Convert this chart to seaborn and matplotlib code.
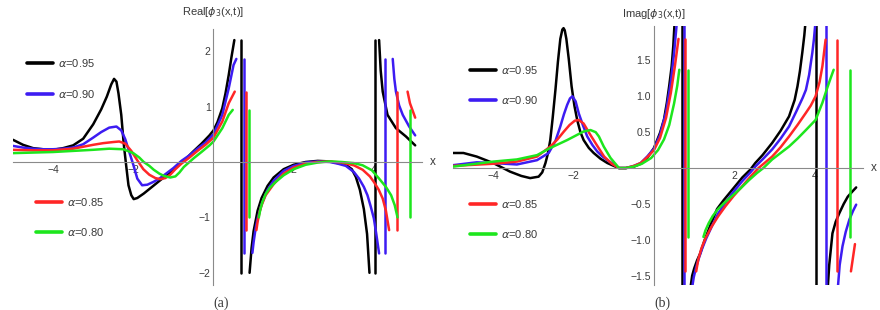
import numpy as np
import pandas as pd
import seaborn as sns
import matplotlib.pyplot as plt
from matplotlib.ticker import MultipleLocator, FixedLocator, FuncFormatter
from matplotlib.lines import Line2D

# values; NaN separates the branches of one curve
N = np.nan
alphas = ["0.95", "0.90", "0.85", "0.80"]
colors = ["#000000", "#3d1cf2", "#ff2626", "#1de61d"]

# ---- panel (a): Real part ----
re_x_95 = [-5.0, -4.75, -4.5, -4.25, -4.0, -3.75, -3.5, -3.25, -3.0, -2.8, -2.66, -2.55, -2.48, -2.42, -2.37,
           -2.3, -2.24, -2.18, -2.12, -2.05, -1.99, -1.9, -1.74, -1.5, -1.33, -1.1, -0.91, -0.7, -0.49, -0.3,
           -0.1, 0.0, 0.1, 0.22, 0.3, 0.38, 0.45, 0.52, N,
           0.69, 0.69, N,
           0.90, 0.95, 1.0, 1.1, 1.2, 1.35, 1.5, 1.75, 2.0, 2.3, 2.6, 2.9, 3.1, 3.3, 3.45, 3.55, 3.65, 3.75,
           3.83, 3.89, N,
           4.02, 4.02, N,
           4.13, 4.17, 4.22, 4.34, 4.55, 4.8, 5.03]
re_y_95 = [0.40, 0.31, 0.25, 0.23, 0.22, 0.25, 0.30, 0.42, 0.68, 0.95, 1.18, 1.40, 1.50, 1.45, 1.24,
           0.85, 0.34, -0.05, -0.42, -0.60, -0.67, -0.65, -0.57, -0.43, -0.33, -0.20, -0.08, 0.05, 0.20, 0.33,
           0.48, 0.57, 0.72, 0.97, 1.24, 1.57, 1.90, 2.2, N,
           2.2, -2.0, N,
           -2.0, -1.55, -1.25, -0.88, -0.65, -0.43, -0.28, -0.13, -0.05, 0.0, 0.02, 0.01, -0.02, -0.05, -0.13,
           -0.27, -0.50, -0.85, -1.3, -2.0, N,
           2.2, -2.0, N,
           2.2, 1.65, 1.27, 0.85, 0.61, 0.46, 0.30]

re_x_90 = [-5.0, -4.75, -4.5, -4.25, -4.0, -3.75, -3.5, -3.25, -3.0, -2.8, -2.6, -2.42, -2.3, -2.2, -2.1,
           -2.0, -1.9, -1.78, -1.65, -1.5, -1.35, -1.2, -1.0, -0.8, -0.6, -0.4, -0.2, 0.0, 0.22, 0.38, 0.5,
           0.57, N,
           0.77, 0.77, N,
           0.97, 1.0, 1.05, 1.1, 1.2, 1.35, 1.5, 1.75, 2.0, 2.3, 2.6, 2.9, 3.1, 3.3, 3.5, 3.63, 3.75, 3.84,
           3.92, 4.0, 4.06, 4.13, N,
           4.28, 4.28, N,
           4.47, 4.51, 4.55, 4.63, 4.72, 4.88, 5.03]
re_y_90 = [0.29, 0.26, 0.24, 0.23, 0.23, 0.24, 0.26, 0.32, 0.44, 0.54, 0.62, 0.64, 0.57, 0.41, 0.18,
           -0.05, -0.30, -0.42, -0.41, -0.36, -0.30, -0.22, -0.11, 0.02, 0.12, 0.24, 0.35, 0.50, 0.85, 1.33, 1.75,
           1.86, N,
           1.86, -1.64, N,
           -1.64, -1.45, -1.20, -1.02, -0.76, -0.50, -0.34, -0.16, -0.07, -0.01, 0.01, 0.0, -0.03, -0.07, -0.18,
           -0.30, -0.45, -0.60, -0.80, -1.02, -1.30, -1.65, N,
           1.86, -1.65, N,
           1.86, 1.5, 1.27, 1.02, 0.85, 0.64, 0.48]

re_x_85 = [-5.0, -4.5, -4.0, -3.5, -3.0, -2.75, -2.5, -2.35, -2.2, -2.05, -1.9, -1.75, -1.6, -1.45, -1.33,
           -1.2, -1.08, -0.95, -0.8, -0.6, -0.4, -0.2, 0.0, 0.22, 0.38, 0.53, N,
           0.82, 0.82, N,
           1.07, 1.1, 1.15, 1.2, 1.3, 1.5, 1.75, 2.0, 2.3, 2.6, 2.9, 3.2, 3.5, 3.72, 3.9, 4.0, 4.12, 4.22,
           4.3, 4.38, N,
           4.58, 4.58, N,
           4.84, 4.9, 4.97, 5.03]
re_y_85 = [0.22, 0.21, 0.21, 0.24, 0.31, 0.34, 0.36, 0.37, 0.33, 0.20, 0.03, -0.13, -0.23, -0.29, -0.31,
           -0.29, -0.23, -0.13, -0.03, 0.08, 0.20, 0.31, 0.44, 0.73, 1.06, 1.27, N,
           1.27, -1.23, N,
           -1.23, -1.08, -0.90, -0.78, -0.60, -0.40, -0.21, -0.10, -0.03, 0.0, 0.01, -0.01, -0.06, -0.14, -0.26,
           -0.36, -0.50, -0.66, -0.88, -1.23, N,
           1.27, -1.23, N,
           1.27, 1.06, 0.92, 0.80]

re_x_80 = [-5.0, -4.5, -4.0, -3.5, -3.0, -2.6, -2.25, -2.0, -1.85, -1.74, -1.6, -1.49, -1.35, -1.24, -1.08,
           -0.95, -0.85, -0.74, -0.6, -0.49, -0.3, -0.1, 0.0, 0.22, 0.38, 0.48, N,
           0.88, 0.88, N,
           1.13, 1.17, 1.22, 1.3, 1.4, 1.55, 1.75, 2.0, 2.3, 2.6, 2.9, 3.2, 3.5, 3.72, 3.95, 4.13, 4.3, 4.43,
           4.52, 4.59, N,
           4.9, 4.9]
re_y_80 = [0.16, 0.17, 0.18, 0.20, 0.22, 0.24, 0.23, 0.16, 0.08, 0.0, -0.07, -0.14, -0.21, -0.25, -0.28,
           -0.26, -0.19, -0.09, 0.0, 0.07, 0.18, 0.30, 0.37, 0.61, 0.85, 0.94, N,
           0.94, -1.0, N,
           -1.0, -0.85, -0.72, -0.58, -0.47, -0.36, -0.24, -0.13, -0.05, -0.01, 0.01, 0.0, -0.02, -0.06, -0.15,
           -0.30, -0.45, -0.60, -0.78, -1.0, N,
           0.94, -1.0]

# ---- panel (b): Imag part ----
im_x_95 = [-5.0, -4.74, -4.41, -4.0, -3.58, -3.3, -3.08, -2.87, -2.78, -2.70, -2.64, -2.58, -2.52, -2.45,
           -2.39, -2.33, -2.28, -2.25, -2.22, -2.18, -2.12, -2.05, -1.98, -1.91, -1.83, -1.75, -1.62, -1.5,
           -1.33, -1.16, -1.0, -0.87, -0.7, -0.5, -0.33, -0.17, 0.0, 0.15, 0.25, 0.32, 0.38, 0.44, 0.48, 0.52, N,
           0.69, 0.69, N,
           0.90, 0.95, 1.0, 1.07, 1.15, 1.25, 1.4, 1.57, 1.73, 1.98, 2.2, 2.4, 2.52, 2.7, 2.94, 3.15, 3.36,
           3.5, 3.57, 3.63, 3.69, 3.74, 3.78, N,
           4.02, 4.02, N,
           4.32, 4.36, 4.44, 4.52, 4.61, 4.72, 4.82, 4.93, 5.03]
im_y_95 = [0.21, 0.21, 0.16, 0.07, -0.05, -0.11, -0.14, -0.12, -0.06, 0.07, 0.2, 0.39, 0.7, 1.10,
           1.48, 1.80, 1.93, 1.95, 1.92, 1.80, 1.52, 1.14, 0.87, 0.67, 0.50, 0.39, 0.28, 0.21,
           0.13, 0.07, 0.03, 0.0, 0.0, 0.02, 0.06, 0.14, 0.28, 0.49, 0.68, 0.91, 1.15, 1.42, 1.7, 2.1, N,
           2.1, -1.7, N,
           -1.7, -1.5, -1.4, -1.29, -1.19, -1.02, -0.80, -0.57, -0.45, -0.28, -0.13, -0.02, 0.07, 0.18, 0.35,
           0.52, 0.72, 0.95, 1.14, 1.35, 1.61, 1.85, 2.1, N,
           2.1, -1.7, N,
           -1.7, -1.35, -0.91, -0.75, -0.63, -0.50, -0.40, -0.33, -0.27]

im_x_90 = [-5.0, -4.41, -4.0, -3.41, -2.91, -2.62, -2.45, -2.33, -2.24, -2.16, -2.09, -2.03, -1.95, -1.87,
           -1.77, -1.66, -1.53, -1.41, -1.28, -1.16, -1.0, -0.87, -0.7, -0.5, -0.33, -0.17, 0.0, 0.15, 0.3,
           0.42, 0.5, 0.58, N,
           0.74, 0.74, N,
           0.94, 0.99, 1.05, 1.12, 1.2, 1.3, 1.45, 1.6, 1.78, 1.98, 2.2, 2.4, 2.52, 2.7, 2.94, 3.15, 3.36,
           3.55, 3.7, 3.78, 3.86, 3.94, 3.98, 4.02, N,
           4.28, 4.28, N,
           4.57, 4.62, 4.69, 4.77, 4.86, 4.95, 5.03]
im_y_90 = [0.04, 0.08, 0.07, 0.05, 0.11, 0.21, 0.38, 0.58, 0.75, 0.88, 0.97, 1.0, 0.93, 0.76,
           0.60, 0.44, 0.32, 0.23, 0.16, 0.11, 0.05, 0.0, 0.0, 0.03, 0.07, 0.16, 0.27, 0.46, 0.78,
           1.2, 1.6, 2.1, N,
           2.1, -1.7, N,
           -1.7, -1.52, -1.38, -1.25, -1.12, -0.98, -0.80, -0.63, -0.48, -0.33, -0.18, -0.06, 0.02, 0.12, 0.26,
           0.41, 0.58, 0.80, 0.98, 1.09, 1.3, 1.61, 1.8, 2.05, N,
           2.1, -1.7, N,
           -1.7, -1.35, -1.09, -0.89, -0.72, -0.60, -0.51]

im_x_85 = [-5.0, -4.0, -3.41, -2.91, -2.58, -2.4, -2.24, -2.1, -1.97, -1.87, -1.75, -1.58, -1.4, -1.24,
           -1.05, -0.87, -0.7, -0.5, -0.33, -0.17, 0.0, 0.15, 0.3, 0.42, 0.52, 0.61, N,
           0.78, 0.78, N,
           1.05, 1.1, 1.18, 1.28, 1.43, 1.6, 1.78, 1.98, 2.2, 2.4, 2.6, 2.94, 3.15, 3.36, 3.57, 3.78, 3.9,
           4.02, 4.12, 4.19, 4.27, N,
           4.55, 4.55, N,
           4.9, 4.95, 5.0]
im_y_85 = [0.03, 0.06, 0.09, 0.16, 0.30, 0.40, 0.51, 0.60, 0.66, 0.67, 0.62, 0.46, 0.30, 0.16,
           0.06, 0.0, 0.0, 0.03, 0.07, 0.15, 0.25, 0.42, 0.70, 1.05, 1.42, 1.80, N,
           1.80, -1.44, N,
           -1.44, -1.28, -1.12, -0.98, -0.82, -0.67, -0.53, -0.39, -0.25, -0.12, 0.0, 0.16, 0.29, 0.44, 0.60,
           0.77, 0.87, 1.0, 1.2, 1.42, 1.79, N,
           1.79, -1.44, N,
           -1.44, -1.25, -1.06]

im_x_80 = [-5.0, -4.0, -3.41, -2.91, -2.58, -2.16, -1.75, -1.58, -1.45, -1.37, -1.25, -1.08, -0.87, -0.7,
           -0.5, -0.3, -0.07, 0.1, 0.25, 0.38, 0.5, 0.58, 0.63, N,
           0.84, 0.84, N,
           1.23, 1.28, 1.36, 1.46, 1.58, 1.74, 1.94, 2.16, 2.36, 2.56, 2.72, 2.94, 3.15, 3.36, 3.57, 3.78,
           4.02, 4.19, 4.3, 4.38, 4.47, N,
           4.88, 4.88]
im_y_80 = [0.02, 0.09, 0.12, 0.18, 0.28, 0.39, 0.51, 0.53, 0.50, 0.44, 0.30, 0.14, 0.0, 0.0,
           0.02, 0.06, 0.14, 0.25, 0.40, 0.60, 0.90, 1.15, 1.37, N,
           1.37, -0.96, N,
           -0.96, -0.87, -0.77, -0.67, -0.58, -0.49, -0.39, -0.28, -0.17, -0.07, 0.0, 0.12, 0.21, 0.30, 0.41,
           0.53, 0.67, 0.91, 1.1, 1.23, 1.37, N,
           1.37, -0.96]

real_curves = [(re_x_95, re_y_95), (re_x_90, re_y_90), (re_x_85, re_y_85), (re_x_80, re_y_80)]
imag_curves = [(im_x_95, im_y_95), (im_x_90, im_y_90), (im_x_85, im_y_85), (im_x_80, im_y_80)]


def build_frame(curves):
    rows = []
    seg = 0
    for a, (xs, ys) in zip(alphas, curves):
        for x, y in zip(xs, ys):
            if np.isnan(x):
                seg += 1
                continue
            rows.append({"x": x, "y": y, "alpha": a, "seg": seg})
        seg += 1
    return pd.DataFrame(rows)


sns.set_style("white")
plt.rcParams["font.family"] = ["Liberation Sans", "DejaVu Sans"]
palette = dict(zip(alphas, colors))
axis_col = "#8a8a8a"
text_col = "#3a3a3a"

fig = plt.figure(figsize=(8.8, 3.1), dpi=100)
ax_a = fig.add_axes([13 / 880, 25 / 310, 409 / 880, 256 / 310])
ax_b = fig.add_axes([453 / 880, 25 / 310, 410 / 880, 259 / 310])

panels = [
    (ax_a, real_curves, (-5.0, 5.2), (-2.22, 2.40), [-2, -1, 1, 2], 0.2, "{:.0f}",
     r"Real[$\phi_3$(x,t)]", "(a)", 1.066),
    (ax_b, imag_curves, (-5.0, 5.2), (-1.63, 1.98), [-1.5, -1.0, -0.5, 0.5, 1.0, 1.5], 0.1, "{:.1f}",
     r"Imag[$\phi_3$(x,t)]", "(b)", 1.048),
]

for ax, curves, xlim, ylim, yticks, yminor, yfmt, title, tag, title_y in panels:
    df = build_frame(curves)
    sns.lineplot(data=df, x="x", y="y", hue="alpha", units="seg", estimator=None, sort=False,
                 hue_order=alphas, palette=palette, linewidth=1.8, legend=False, ax=ax)
    ax.set_xlim(*xlim)
    ax.set_ylim(*ylim)
    ax.set_xlabel("")
    ax.set_ylabel("")
    for side in ["top", "right"]:
        ax.spines[side].set_visible(False)
    for side in ["left", "bottom"]:
        ax.spines[side].set_position(("data", 0))
        ax.spines[side].set_color(axis_col)
        ax.spines[side].set_linewidth(0.8)
    ax.xaxis.set_major_locator(FixedLocator([-4, -2, 2, 4]))
    ax.xaxis.set_minor_locator(MultipleLocator(0.5))
    ax.yaxis.set_major_locator(FixedLocator(yticks))
    ax.yaxis.set_minor_locator(MultipleLocator(yminor))
    ax.xaxis.set_major_formatter(FuncFormatter(lambda v, p: "{:.0f}".format(v).replace("-", "\u2212")))
    ax.yaxis.set_major_formatter(FuncFormatter(lambda v, p, f=yfmt: f.format(v).replace("-", "\u2212")))
    ax.tick_params(which="major", direction="in", length=4, width=0.7, color=axis_col,
                   labelsize=7.5, labelcolor=text_col, pad=2)
    ax.tick_params(which="minor", direction="in", length=2.2, width=0.6, color=axis_col)
    ax.set_facecolor("none")

    ax.text(0, title_y, title, transform=ax.get_xaxis_transform(), ha="center", va="center",
            fontsize=8, color=text_col)
    ax.text(5.48, 0, "x", ha="center", va="center", fontsize=8.5, color=text_col, clip_on=False)
    ax.text(0.2, -0.07, tag, transform=ax.get_xaxis_transform(), ha="center", va="center",
            fontsize=10, family="Liberation Serif", color=text_col)

    handles = [Line2D([], [], color=c, lw=2.6) for c in colors]
    labels = [r"$\alpha$=" + a for a in alphas]
    leg_kw = dict(frameon=False, fontsize=8, handlelength=2.3, handletextpad=0.45,
                  labelspacing=1.65, borderpad=0, borderaxespad=0, labelcolor=text_col)
    if ax is ax_a:
        top_anchor, low_anchor = (27 / 880, 1 - 78.5 / 310), (36 / 880, 1 - 217 / 310)
    else:
        top_anchor, low_anchor = (470 / 880, 1 - 85 / 310), (470 / 880, 1 - 219 / 310)
    leg1 = ax.legend(handles[:2], labels[:2], loc="center left", bbox_to_anchor=top_anchor,
                     bbox_transform=fig.transFigure, **leg_kw)
    ax.add_artist(leg1)
    ax.legend(handles[2:], labels[2:], loc="center left", bbox_to_anchor=low_anchor,
              bbox_transform=fig.transFigure, **leg_kw)

fig.savefig("out.png", dpi=100)
